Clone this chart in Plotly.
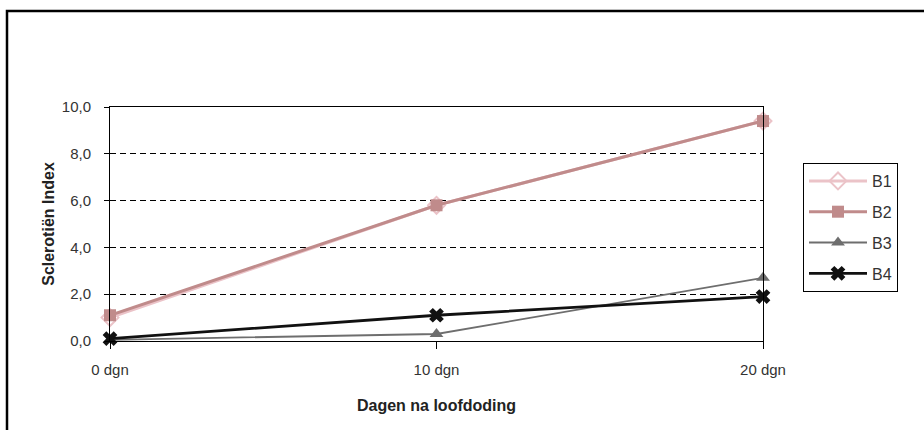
import plotly.graph_objects as go

days = [0, 10, 20]
day_labels = ["0 dgn", "10 dgn", "20 dgn"]
y_ticks = [0, 2, 4, 6, 8, 10]
y_tick_labels = ["0,0", "2,0", "4,0", "6,0", "8,0", "10,0"]

b1 = [1.0, 5.8, 9.4]
b2 = [1.1, 5.8, 9.4]
b3 = [0.05, 0.3, 2.7]
b4 = [0.1, 1.1, 1.9]

series = [
    ("B1", b1, dict(color="#ebc3c8", width=3), dict(symbol="diamond-open", size=13, color="#ebc3c8", line=dict(width=2, color="#ebc3c8"))),
    ("B2", b2, dict(color="#c08b8b", width=3), dict(symbol="square", size=12, color="#c08b8b")),
    ("B3", b3, dict(color="#6e6e6e", width=1.8), dict(symbol="triangle-up", size=12, color="#6e6e6e")),
    ("B4", b4, dict(color="#111111", width=2.8), dict(symbol="x", size=13, color="#111111")),
]

fig = go.Figure()
for name, vals, line, marker in series:
    fig.add_trace(go.Scatter(x=days, y=vals, name=name, mode="lines+markers",
                             line=line, marker=marker, legendgroup=name, cliponaxis=False))

L, R, T, B = 110, 161, 107, 89
W, H = 924, 430
pw, ph = W - L - R, H - T - B

def px(x):
    return (x - L) / pw

def py(y):
    return (H - B - y) / ph

fig.update_layout(
    width=W, height=H,
    margin=dict(l=L, r=R, t=T, b=B, autoexpand=False),
    paper_bgcolor="white", plot_bgcolor="white",
    font=dict(family="Liberation Sans, Arial, sans-serif", size=15, color="#333333"),
    showlegend=True,
    legend=dict(x=px(803), y=py(163), xanchor="left", yanchor="top",
                bordercolor="black", borderwidth=1, bgcolor="white",
                font=dict(size=16, color="#333333"), tracegroupgap=7,
                itemwidth=58),
    xaxis=dict(range=[0, 20], tickvals=days, ticktext=day_labels,
               showline=True, linecolor="black", linewidth=1, mirror=True,
               ticks="outside", ticklen=7, tickcolor="black", showgrid=False,
               ticklabelstandoff=8, tickfont=dict(size=15),
               zeroline=False, fixedrange=True,
               title=dict(text="<b>Dagen na loofdoding</b>", standoff=22,
                          font=dict(size=16, color="#222222"))),
    yaxis=dict(range=[0, 10], tickvals=y_ticks, ticktext=y_tick_labels,
               showline=True, linecolor="black", linewidth=1, mirror=True,
               ticks="outside", ticklen=5, tickcolor="black",
               ticklabelstandoff=10, tickfont=dict(size=15),
               showgrid=True, gridcolor="black", gridwidth=1, griddash="6px,4px",
               zeroline=False, fixedrange=True,
               title=dict(text="<b>Sclerotiën Index</b>", standoff=3,
                          font=dict(size=16, color="#222222"))),
    shapes=[
        dict(type="rect", xref="paper", yref="paper",
             x0=px(7), x1=px(940), y0=py(445), y1=py(11),
             line=dict(color="black", width=2.5), layer="below"),
    ],
)

fig.write_html("out.html", config={"displayModeBar": False},
               post_script="document.body.style.margin='0';")
